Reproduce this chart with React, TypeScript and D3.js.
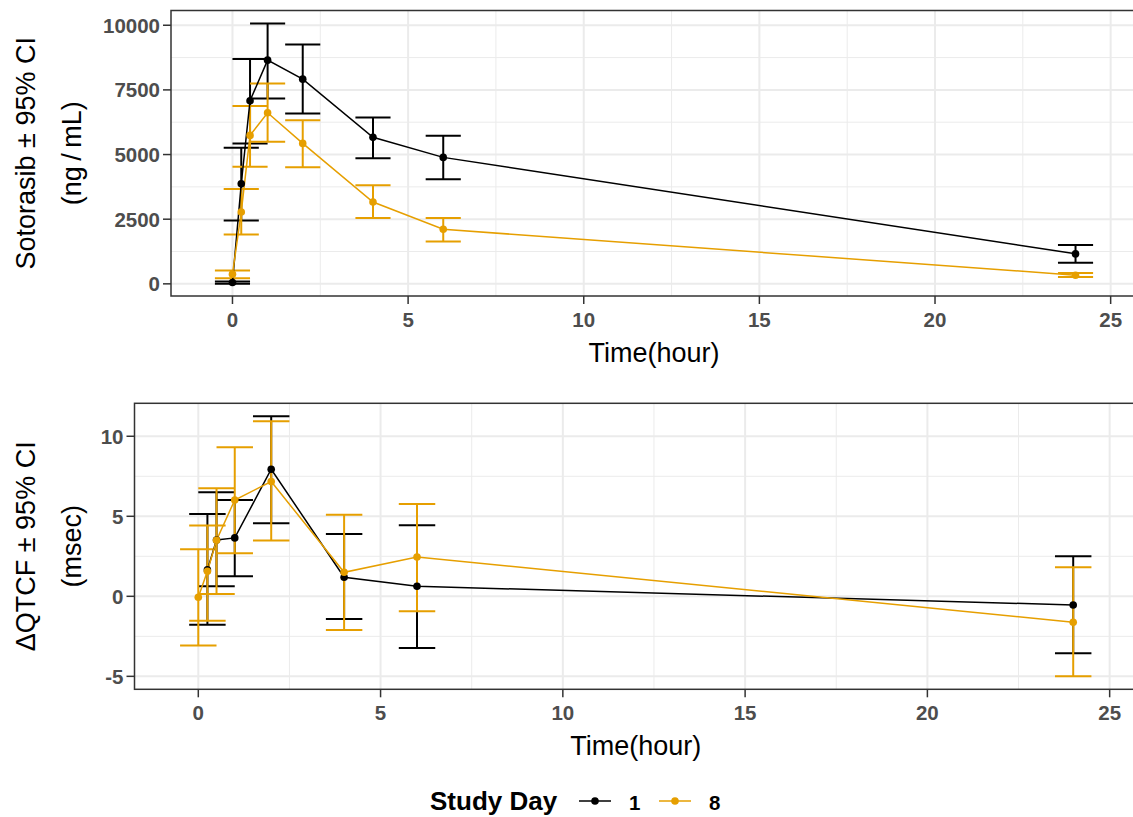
import * as d3 from "d3";

// sampling times (hours)
const pkTimes = [0, 0.25, 0.5, 1, 2, 4, 6, 24];
// sotorasib concentration, day 1
const pkDay1Mean = [50, 3870, 7080, 8650, 7915, 5665, 4890, 1160];
const pkDay1Lo = [0, 2445, 5430, 7170, 6590, 4855, 4040, 820];
const pkDay1Hi = [90, 5265, 8690, 10065, 9255, 6435, 5725, 1505];
// sotorasib concentration, day 8
const pkDay8Mean = [375, 2780, 5740, 6615, 5430, 3165, 2110, 335];
const pkDay8Lo = [220, 1905, 4530, 5495, 4505, 2550, 1635, 260];
const pkDay8Hi = [515, 3670, 6875, 7750, 6330, 3810, 2550, 415];

// delta QTcF, day 1 has no predose point
const qtTimesDay1 = [0.25, 0.5, 1, 2, 4, 6, 24];
const qtDay1Mean = [1.65, 3.52, 3.65, 7.94, 1.19, 0.63, -0.54];
const qtDay1Lo = [-1.77, 0.63, 1.25, 4.56, -1.41, -3.23, -3.56];
const qtDay1Hi = [5.15, 6.5, 6.02, 11.25, 3.9, 4.44, 2.5];
const qtTimesDay8 = [0, 0.25, 0.5, 1, 2, 4, 6, 24];
const qtDay8Mean = [-0.06, 1.56, 3.5, 6.02, 7.17, 1.5, 2.46, -1.62];
const qtDay8Lo = [-3.08, -1.52, 0.15, 2.69, 3.48, -2.1, -0.94, -5.0];
const qtDay8Hi = [2.94, 4.42, 6.75, 9.31, 10.94, 5.09, 5.77, 1.81];

const studyDays = ["1", "8"];
const dayColors = ["#000000", "#E69F00"];
const xTicks = [0, 5, 10, 15, 20, 25];
const pkTicks = [0, 2500, 5000, 7500, 10000];
const qtTicks = [-5, 0, 5, 10];

const FONT = "'Liberation Sans', Arial, sans-serif";

function zip(t, m, lo, hi) {
  return t.map((x, i) => ({ x, y: m[i], lo: lo[i], hi: hi[i] }));
}

function Panel({ left, top, bottom, right, yDomain, yTicks, series, title1, title2, tickFmt }) {
  const x = d3.scaleLinear().domain([-1.75, 25.75]).range([left, right]);
  const y = d3.scaleLinear().domain(yDomain).range([bottom, top]);
  const line = d3.line().x((d) => x(d.x)).y((d) => y(d.y));

  // minor breaks halfway between majors
  const xMinor = xTicks.slice(0, -1).map((v, i) => (v + xTicks[i + 1]) / 2);
  const yMinor = yTicks.slice(0, -1).map((v, i) => (v + yTicks[i + 1]) / 2);
  const step = yTicks[1] - yTicks[0];
  const lastY = yTicks[yTicks.length - 1] + step / 2;
  if (lastY < yDomain[1]) yMinor.push(lastY);
  const firstY = yTicks[0] - step / 2;
  if (firstY > yDomain[0]) yMinor.unshift(firstY);

  const capHalf = x(0.5) - x(0);
  const midY = (top + bottom) / 2;

  return (
    <g>
      <rect x={left} y={top} width={right - left} height={bottom - top} fill="#fff" />
      {xMinor.map((v) => (
        <line key={"xm" + v} x1={x(v)} x2={x(v)} y1={top} y2={bottom} stroke="#EBEBEB" strokeWidth={1} />
      ))}
      {yMinor.map((v) => (
        <line key={"ym" + v} x1={left} x2={right} y1={y(v)} y2={y(v)} stroke="#EBEBEB" strokeWidth={1} />
      ))}
      {xTicks.map((v) => (
        <line key={"xg" + v} x1={x(v)} x2={x(v)} y1={top} y2={bottom} stroke="#EBEBEB" strokeWidth={2} />
      ))}
      {yTicks.map((v) => (
        <line key={"yg" + v} x1={left} x2={right} y1={y(v)} y2={y(v)} stroke="#EBEBEB" strokeWidth={2} />
      ))}

      {/* error bars */}
      {series.map((s, si) => (
        <g key={"eb" + si} stroke={dayColors[si]} strokeWidth={2} fill="none">
          {s.map((d, i) => (
            <g key={i}>
              <line x1={x(d.x)} x2={x(d.x)} y1={y(d.lo)} y2={y(d.hi)} />
              <line x1={x(d.x) - capHalf} x2={x(d.x) + capHalf} y1={y(d.lo)} y2={y(d.lo)} />
              <line x1={x(d.x) - capHalf} x2={x(d.x) + capHalf} y1={y(d.hi)} y2={y(d.hi)} />
            </g>
          ))}
        </g>
      ))}
      {series.map((s, si) => (
        <path key={"ln" + si} d={line(s)} fill="none" stroke={dayColors[si]} strokeWidth={1.5} />
      ))}
      {series.map((s, si) => (
        <g key={"pt" + si} fill={dayColors[si]}>
          {s.map((d, i) => (
            <circle key={i} cx={x(d.x)} cy={y(d.y)} r={3.8} />
          ))}
        </g>
      ))}

      <rect x={left} y={top} width={right - left} height={bottom - top} fill="none" stroke="#333333" strokeWidth={1.5} />

      {/* y axis */}
      {yTicks.map((v) => (
        <g key={"yt" + v}>
          <line x1={left - 8} x2={left} y1={y(v)} y2={y(v)} stroke="#333333" strokeWidth={1.5} />
          <text x={left - 11} y={y(v)} dy="0.36em" textAnchor="end" fontFamily={FONT} fontSize={20.5} fontWeight="bold" fill="#4D4D4D">
            {tickFmt(v)}
          </text>
        </g>
      ))}
      {/* x axis */}
      {xTicks.map((v) => (
        <g key={"xt" + v}>
          <line x1={x(v)} x2={x(v)} y1={bottom} y2={bottom + 8} stroke="#333333" strokeWidth={1.5} />
          <text x={x(v)} y={bottom + 31} textAnchor="middle" fontFamily={FONT} fontSize={20.5} fontWeight="bold" fill="#4D4D4D">
            {v}
          </text>
        </g>
      ))}
      <text x={(left + right) / 2} y={bottom + 66} textAnchor="middle" fontFamily={FONT} fontSize={27} fill="#000">
        Time(hour)
      </text>
      <text transform={`translate(35,${midY}) rotate(-90)`} textAnchor="middle" fontFamily={FONT} fontSize={27} fill="#000">
        {title1}
      </text>
      <text transform={`translate(81,${midY}) rotate(-90)`} textAnchor="middle" fontFamily={FONT} fontSize={27} fill="#000">
        {title2}
      </text>
    </g>
  );
}

export default function App() {
  const pkSeries = [
    zip(pkTimes, pkDay1Mean, pkDay1Lo, pkDay1Hi),
    zip(pkTimes, pkDay8Mean, pkDay8Lo, pkDay8Hi),
  ];
  const qtSeries = [
    zip(qtTimesDay1, qtDay1Mean, qtDay1Lo, qtDay1Hi),
    zip(qtTimesDay8, qtDay8Mean, qtDay8Lo, qtDay8Hi),
  ];

  return (
    <svg
      width={1133}
      height={817}
      style={{ position: "absolute", left: 0, top: 0, background: "#fff" }}
    >
      <rect width={1133} height={817} fill="#fff" />
      <Panel
        left={171}
        right={1137}
        top={10.5}
        bottom={296}
        yDomain={[-470, 10570]}
        yTicks={pkTicks}
        series={pkSeries}
        title1={"Sotorasib \u00B1 95% CI"}
        title2={"(ng\u2009/\u2009mL)"}
        tickFmt={(v) => String(v)}
      />
      <Panel
        left={134.5}
        right={1137}
        top={403.3}
        bottom={689.3}
        yDomain={[-5.81, 12.06]}
        yTicks={qtTicks}
        series={qtSeries}
        title1={"\u0394QTCF \u00B1 95% CI"}
        title2={"(msec)"}
        tickFmt={(v) => String(v)}
      />

      {/* legend */}
      <g fontFamily={FONT}>
        <text x={430} y={810} fontSize={26} fontWeight="bold" fill="#000">
          Study Day
        </text>
        {studyDays.map((d, i) => {
          const kx = 579 + i * 80;
          return (
            <g key={d}>
              <line x1={kx} x2={kx + 32} y1={801} y2={801} stroke={dayColors[i]} strokeWidth={1.5} />
              <circle cx={kx + 16} cy={801} r={3.8} fill={dayColors[i]} />
              <text x={kx + 50} y={810} fontSize={20.5} fontWeight="bold" fill="#000">
                {d}
              </text>
            </g>
          );
        })}
      </g>
    </svg>
  );
}
